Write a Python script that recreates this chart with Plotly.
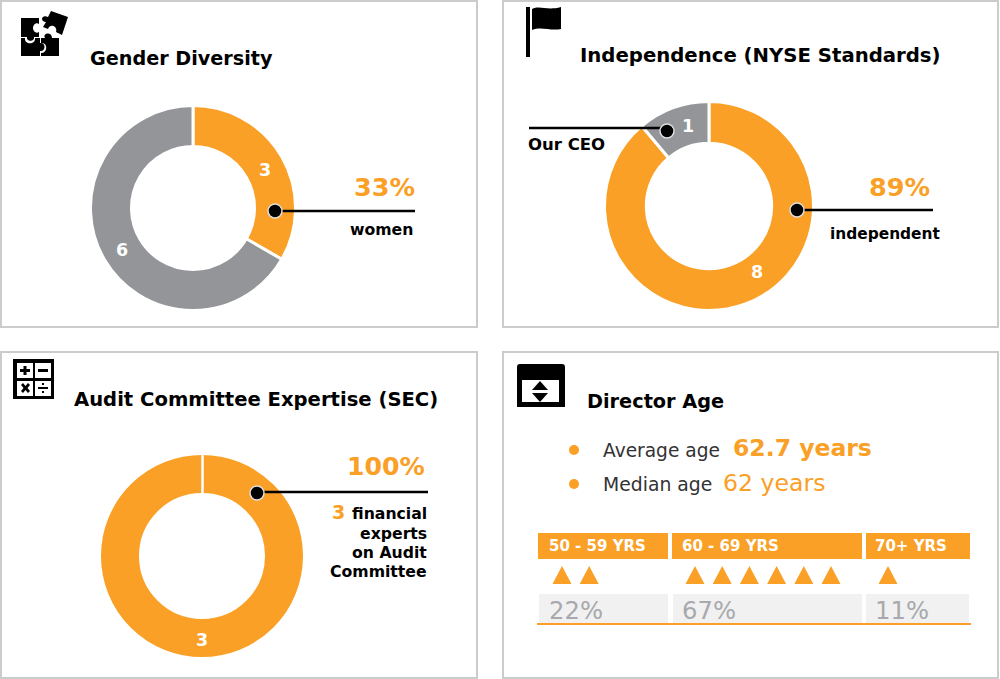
import plotly.graph_objects as go

ORANGE = "#FAA026"
GRAY = "#939598"
FONT = "DejaVu Sans"

gender_values = [3, 6]
independence_values = [8, 1]
audit_values = [3]
age_groups = ["50 - 59 YRS", "60 - 69 YRS", "70+ YRS"]
age_counts = [2, 6, 1]
age_shares = ["22%", "67%", "11%"]

W, H = 1000, 679
fig = go.Figure()


def donut(values, colors, cx, cy, r, rotation=0):
    fig.add_trace(go.Pie(
        values=values, sort=False, direction="clockwise", rotation=rotation,
        hole=0.6, textinfo="none", hoverinfo="skip", showlegend=False,
        marker=dict(colors=colors, line=dict(color="white", width=3)),
        domain=dict(x=[(cx - r) / W, (cx + r) / W], y=[1 - (cy + r) / H, 1 - (cy - r) / H]),
    ))


donut(gender_values, [ORANGE, GRAY], 193, 208, 102.5)
donut(independence_values, [ORANGE, GRAY], 709, 206, 104.5)
donut(audit_values, [ORANGE], 202, 556, 102.5)

shapes = []
annotations = []


def rect(x0, y0, x1, y1, fill, line=None, lw=0, layer="above"):
    shapes.append(dict(type="rect", xref="x", yref="y", x0=x0, y0=y0, x1=x1, y1=y1,
                       fillcolor=fill, line=dict(color=line or fill, width=lw), layer=layer))


def hline(x0, x1, y, color="black", lw=2.5):
    shapes.append(dict(type="line", xref="x", yref="y", x0=x0, x1=x1, y0=y, y1=y,
                       line=dict(color=color, width=lw), layer="above"))


def dot(x, y):
    shapes.append(dict(type="circle", xref="x", yref="y", x0=x - 7, x1=x + 7, y0=y - 7, y1=y + 7,
                       fillcolor="black", line=dict(color="#DDDDDD", width=1.5), layer="above"))


def path(d, fill="black"):
    shapes.append(dict(type="path", xref="x", yref="y", path=d, fillcolor=fill,
                       line=dict(width=0), layer="above"))


def text(x, y, s, size, color="black", bold=True, anchor="left"):
    annotations.append(dict(xref="x", yref="y", x=x, y=y, text=f"<b>{s}</b>" if bold else s,
                            showarrow=False, xanchor=anchor, yanchor="middle",
                            font=dict(family=FONT, size=size, color=color),
                            borderpad=0, borderwidth=0))


# panels
for x0, y0, x1, y1 in [(1, 1, 477, 327), (503, 1, 998, 327), (1, 352, 477, 678), (503, 352, 998, 678)]:
    rect(x0, y0, x1, y1, "white", "#CCCCCC", 2, layer="below")

# panel 1
text(90, 58, "Gender Diversity", 19.2)
text(265, 170, str(gender_values[0]), 17.5, "white", anchor="center")
text(122, 250, str(gender_values[1]), 17.5, "white", anchor="center")
hline(276, 415, 211)
dot(275, 211)
text(384.5, 187, "33%", 25.5, ORANGE, anchor="center")
text(381, 229, "women", 15.7, anchor="center")

# panel 2
text(580, 55, "Independence (NYSE Standards)", 19.7)
text(757, 272, str(independence_values[0]), 17.5, "white", anchor="center")
text(688, 126, str(independence_values[1]), 17.5, "white", anchor="center")
hline(529, 668, 128)
dot(667, 131)
text(528, 144, "Our CEO", 16.5)
hline(797, 933, 210)
dot(797, 210)
text(899.5, 187, "89%", 25.5, ORANGE, anchor="center")
text(885, 234, "independent", 15.4, anchor="center")

# panel 3
text(74, 399, "Audit Committee Expertise (SEC)", 19.6)
text(202, 640, str(audit_values[0]), 17.5, "white", anchor="center")
shapes.append(dict(type="line", xref="x", yref="y", x0=202.5, x1=202.5, y0=454, y1=496,
                   line=dict(color="white", width=2.5), layer="above"))
hline(257, 428, 492)
dot(257, 493)
text(386, 466, "100%", 25.2, ORANGE, anchor="center")
text(332, 512, "3", 19, ORANGE)
text(427, 513, "financial", 15.7, anchor="right")
text(427, 533, "experts", 15.7, anchor="right")
text(427, 552, "on Audit", 15.7, anchor="right")
text(427, 571, "Committee", 15.7, anchor="right")

# panel 4
text(587, 401, "Director Age", 19.3)
shapes.append(dict(type="circle", xref="x", yref="y", x0=569, x1=579, y0=445, y1=455,
                   fillcolor=ORANGE, line=dict(width=0), layer="above"))
shapes.append(dict(type="circle", xref="x", yref="y", x0=569, x1=579, y0=479, y1=489,
                   fillcolor=ORANGE, line=dict(width=0), layer="above"))
text(603, 450, "Average age", 18.6, "#333333", bold=False)
text(733, 448, "62.7 years", 23.5, ORANGE)
text(603, 484, "Median age", 18.8, "#333333", bold=False)
text(723, 483, "62 years", 23.6, ORANGE, bold=False)

# age strip
header_spans = [(538, 668), (672, 862), (866, 970)]
share_spans = [(539, 668), (673, 862), (866, 969)]
label_x = [549, 682, 875]
marker_starts = [562, 695, 888]
marker_step = 27.2
tri_x, tri_y = [], []
for (h0, h1), (s0, s1), lx, label, share, n, start in zip(header_spans, share_spans, label_x, age_groups, age_shares, age_counts, marker_starts):
    rect(h0, 533, h1, 559, ORANGE)
    rect(s0, 594, s1, 623, "#F1F1F2")
    text(lx, 546, label, 15, "white")
    text(lx, 610, share, 24.3, "#A7A9AC", bold=False)
    for i in range(n):
        c = start + i * marker_step
        tri_x += [c - 9.5, c + 9.5, c, c - 9.5, None]
        tri_y += [584, 584, 566, 584, None]
hline(537, 971, 624, ORANGE, 2)

fig.add_trace(go.Scatter(x=tri_x, y=tri_y, mode="lines", fill="toself", fillcolor=ORANGE,
                         hoverinfo="skip", showlegend=False, line=dict(width=0, color=ORANGE)))

# icons: puzzle
path("M21 18H39V24C36 22 33 25 33 28C33 31 36 34 39 32V37H34C35 42 26 42 27 37H21Z")
path("M21 38H25C24 45 36 45 35 38H40V43C46 42 46 52 40 51V56H21Z")
path("M41 38H45C42 33 52 31 52 38H59V56H41V53C48 53 48 42 41 43Z")
path("M51 11L68 17L62 35L56 32C58 26 50 23 48 29L43 27L46 22C40 22 41 14 48 17Z")
# icons: flag
rect(526, 7, 530, 57, "black")
path("M532 9C540 5 547 11 561 7V29C550 31 541 26 532 30Z")
# icons: calculator
rect(13, 359, 54, 399, "black")
for cx0, cy0 in [(17, 363), (35, 363), (17, 381), (35, 381)]:
    rect(cx0, cy0, cx0 + 16, cy0 + 15, "white")
rect(20, 369, 30, 372, "black")
rect(23.5, 366, 26.5, 375, "black")
rect(38, 369, 48, 372, "black")
path("M21 385L23 383L25.5 386L28 383L30 385L27.5 388L30 391L28 393L25.5 390L23 393L21 391L23.5 388Z")
rect(38, 387, 48, 389, "black")
rect(42, 383, 44, 385, "black")
rect(42, 391, 44, 393, "black")
# icons: calendar
path("M517 367Q517 364 520 364H562Q565 364 565 367V407H517Z")
rect(522, 380, 559, 402, "white")
path("M532 390L540 381L548 390Z")
path("M532 393L548 393L540 402Z")

fig.update_layout(
    width=W, height=H, margin=dict(l=0, r=0, t=0, b=0), paper_bgcolor="white", plot_bgcolor="white",
    xaxis=dict(range=[0, W], visible=False, domain=[0, 1], fixedrange=True),
    yaxis=dict(range=[H, 0], visible=False, domain=[0, 1], fixedrange=True),
    shapes=shapes, annotations=annotations, showlegend=False,
)
fig.write_html("out.html", config=dict(displayModeBar=False),
               post_script="document.body.style.margin='0';")
